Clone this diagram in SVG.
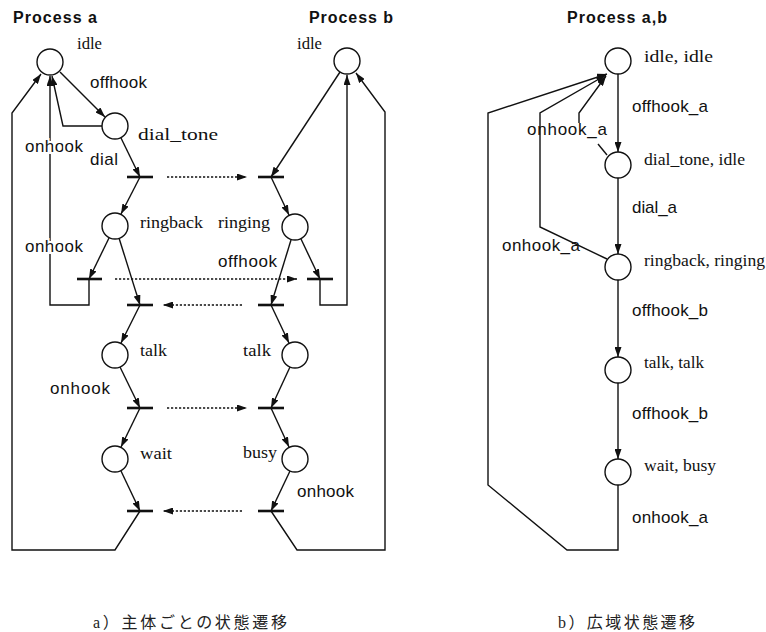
<svg xmlns="http://www.w3.org/2000/svg" width="766" height="632" viewBox="0 0 766 632">
<style>
.bg{fill:#fff}
.st{fill:#fff;stroke:#111;stroke-width:1.4}
.ln{fill:none;stroke:#111;stroke-width:1.4}
.dt{fill:none;stroke:#111;stroke-width:1.4;stroke-dasharray:2.2 1.8}
.bar{stroke:#111;stroke-width:2.6}
.sans{font-family:"Liberation Sans",Arial,sans-serif;font-size:17px;fill:#111}
.serif{font-family:"Liberation Serif","Times New Roman",serif;font-size:17px;fill:#111}
.title{font-family:"Liberation Sans",Arial,sans-serif;font-size:16px;font-weight:bold;fill:#111}
.cap{font-family:"Liberation Serif","Noto Sans CJK JP",serif;font-size:16px;fill:#222}
.halo{stroke:#fff;stroke-width:4;paint-order:stroke}
</style>
<defs>
<marker id="ah" viewBox="0 0 10 7" refX="10" refY="3.5" markerWidth="10" markerHeight="7" markerUnits="userSpaceOnUse" orient="auto">
<path d="M0,0 L10,3.5 L0,7 z" fill="#111"/>
</marker>
</defs>
<rect class="bg" x="0" y="0" width="766" height="632"/>

<g id="connectors">
<!-- process a -->
<line class="ln" x1="60" y1="72" x2="105" y2="117" marker-end="url(#ah)"/>
<line class="ln" x1="121" y1="138" x2="140" y2="177" marker-end="url(#ah)"/>
<line class="ln" x1="140" y1="177" x2="121" y2="214" marker-end="url(#ah)"/>
<line class="ln" x1="109" y1="238" x2="89" y2="279" marker-end="url(#ah)"/>
<line class="ln" x1="119" y1="238" x2="140" y2="305" marker-end="url(#ah)"/>
<polyline class="ln" points="102,126 63,126 52,76" marker-end="url(#ah)"/>
<polyline class="ln" points="89,279 89,305 50,305 50,76" marker-end="url(#ah)"/>
<polyline class="ln" points="140,511 115,550 12,550 12,113 41,74" marker-end="url(#ah)"/>
<line class="ln" x1="140" y1="305" x2="121" y2="343" marker-end="url(#ah)"/>
<line class="ln" x1="120" y1="367" x2="140" y2="408" marker-end="url(#ah)"/>
<line class="ln" x1="140" y1="408" x2="121" y2="447" marker-end="url(#ah)"/>
<line class="ln" x1="121" y1="471" x2="140" y2="511" marker-end="url(#ah)"/>
<!-- process b -->
<line class="ln" x1="340" y1="72" x2="271" y2="177" marker-end="url(#ah)"/>
<line class="ln" x1="271" y1="177" x2="289" y2="215" marker-end="url(#ah)"/>
<line class="ln" x1="301" y1="239" x2="320" y2="279" marker-end="url(#ah)"/>
<line class="ln" x1="291" y1="240" x2="271" y2="305" marker-end="url(#ah)"/>
<polyline class="ln" points="320,279 320,305 347,305 347,75" marker-end="url(#ah)"/>
<polyline class="ln" points="271,511 297,550 385,550 385,112 356,73" marker-end="url(#ah)"/>
<line class="ln" x1="271" y1="305" x2="289" y2="343" marker-end="url(#ah)"/>
<line class="ln" x1="290" y1="367" x2="271" y2="408" marker-end="url(#ah)"/>
<line class="ln" x1="271" y1="408" x2="289" y2="447" marker-end="url(#ah)"/>
<line class="ln" x1="290" y1="471" x2="271" y2="511" marker-end="url(#ah)"/>
<!-- synchronisation (dotted) -->
<line class="dt" x1="167" y1="177" x2="247" y2="177" marker-end="url(#ah)"/>
<line class="dt" x1="115" y1="279" x2="297" y2="279" marker-end="url(#ah)"/>
<line class="dt" x1="242" y1="305" x2="163" y2="305" marker-end="url(#ah)"/>
<line class="dt" x1="167" y1="408" x2="247" y2="408" marker-end="url(#ah)"/>
<line class="dt" x1="242" y1="511" x2="163" y2="511" marker-end="url(#ah)"/>
<!-- transition bars -->
<line class="bar" x1="127" y1="177" x2="153" y2="177"/>
<line class="bar" x1="258" y1="177" x2="284" y2="177"/>
<line class="bar" x1="77" y1="279" x2="102" y2="279"/>
<line class="bar" x1="307" y1="279" x2="333" y2="279"/>
<line class="bar" x1="127" y1="305" x2="153" y2="305"/>
<line class="bar" x1="258" y1="305" x2="284" y2="305"/>
<line class="bar" x1="127" y1="408" x2="153" y2="408"/>
<line class="bar" x1="258" y1="408" x2="284" y2="408"/>
<line class="bar" x1="127" y1="511" x2="153" y2="511"/>
<line class="bar" x1="258" y1="511" x2="284" y2="511"/>
<!-- global -->
<line class="ln" x1="618" y1="74" x2="618" y2="152" marker-end="url(#ah)"/>
<line class="ln" x1="618" y1="178" x2="618" y2="254" marker-end="url(#ah)"/>
<line class="ln" x1="618" y1="280" x2="618" y2="357" marker-end="url(#ah)"/>
<line class="ln" x1="618" y1="383" x2="618" y2="459" marker-end="url(#ah)"/>
<polyline class="ln" points="618,485 618,550 567,550 488,485 488,113 607,74" marker-end="url(#ah)"/>
<polyline class="ln" points="607,259 540,227 540,113 606,75" marker-end="url(#ah)"/>
<line class="ln" x1="607" y1="155" x2="598" y2="144"/>
<polyline class="ln" points="579,123 579,113 606,76" marker-end="url(#ah)"/>
</g>

<g id="idle_a"><circle class="st" cx="50" cy="62" r="13"/><text class="serif" x="77" y="49" textLength="25" lengthAdjust="spacingAndGlyphs">idle</text></g>
<g id="dial_tone"><circle class="st" cx="115" cy="126" r="13"/><text class="serif" x="138" y="140" textLength="80" lengthAdjust="spacingAndGlyphs">dial_tone</text></g>
<g id="ringback"><circle class="st" cx="115" cy="226" r="13"/><text class="serif" x="140" y="228" textLength="63" lengthAdjust="spacingAndGlyphs">ringback</text></g>
<g id="talk_a"><circle class="st" cx="115" cy="355" r="13"/><text class="serif" x="140" y="356" textLength="27" lengthAdjust="spacingAndGlyphs">talk</text></g>
<g id="wait"><circle class="st" cx="115" cy="459" r="13"/><text class="serif" x="140" y="459" textLength="32" lengthAdjust="spacingAndGlyphs">wait</text></g>
<g id="idle_b"><circle class="st" cx="347" cy="61" r="13"/><text class="serif" x="297" y="49" textLength="25" lengthAdjust="spacingAndGlyphs">idle</text></g>
<g id="ringing"><circle class="st" cx="295" cy="227" r="13"/><text class="serif" x="218" y="228" textLength="52" lengthAdjust="spacingAndGlyphs">ringing</text></g>
<g id="talk_b"><circle class="st" cx="295" cy="355" r="13"/><text class="serif" x="243" y="356" textLength="28" lengthAdjust="spacingAndGlyphs">talk</text></g>
<g id="busy"><circle class="st" cx="295" cy="459" r="13"/><text class="serif" x="243" y="458" textLength="34" lengthAdjust="spacingAndGlyphs">busy</text></g>

<g id="g_idle"><circle class="st" cx="618" cy="61" r="13"/><text class="serif" x="644" y="62" textLength="69" lengthAdjust="spacingAndGlyphs">idle, idle</text></g>
<g id="g_dial"><circle class="st" cx="618" cy="165" r="13"/><text class="serif" x="644" y="165" textLength="101" lengthAdjust="spacingAndGlyphs">dial_tone, idle</text></g>
<g id="g_ring"><circle class="st" cx="618" cy="267" r="13"/><text class="serif" x="644" y="266" textLength="121" lengthAdjust="spacingAndGlyphs">ringback, ringing</text></g>
<g id="g_talk"><circle class="st" cx="618" cy="370" r="13"/><text class="serif" x="644" y="368" textLength="60" lengthAdjust="spacingAndGlyphs">talk, talk</text></g>
<g id="g_wait"><circle class="st" cx="618" cy="472" r="13"/><text class="serif" x="644" y="471" textLength="72" lengthAdjust="spacingAndGlyphs">wait, busy</text></g>

<g id="labels">
<text class="title" x="13" y="23" textLength="84">Process a</text>
<text class="title" x="309" y="23" textLength="84">Process b</text>
<text class="title" x="567" y="23" textLength="100">Process a,b</text>
<text class="sans" x="90" y="88" textLength="57">offhook</text>
<text class="sans halo" x="25" y="152" textLength="58">onhook</text>
<text class="sans" x="90" y="165" textLength="28">dial</text>
<text class="sans halo" x="25" y="252" textLength="58">onhook</text>
<text class="sans" x="218" y="267" textLength="59">offhook</text>
<text class="sans" x="50" y="394" textLength="60">onhook</text>
<text class="sans" x="297" y="497" textLength="57">onhook</text>
<text class="sans" x="632" y="112" textLength="76">offhook_a</text>
<text class="sans" x="527" y="135" textLength="80">onhook_a</text>
<text class="sans" x="632" y="213" textLength="45">dial_a</text>
<text class="sans" x="502" y="251" textLength="78">onhook_a</text>
<text class="sans" x="632" y="316" textLength="76">offhook_b</text>
<text class="sans" x="632" y="419" textLength="76">offhook_b</text>
<text class="sans" x="632" y="523" textLength="76">onhook_a</text>
<text class="cap" x="93" y="628" textLength="194">a）主体ごとの状態遷移</text>
<text class="cap" x="558" y="628" textLength="137">b）広域状態遷移</text>
</g>
</svg>
